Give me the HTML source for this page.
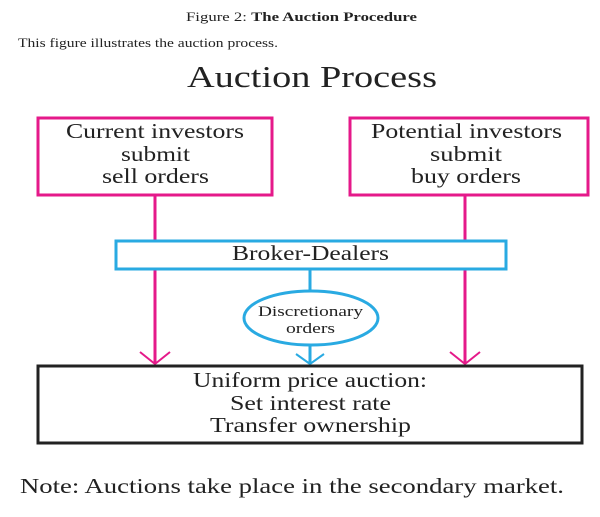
<!DOCTYPE html>
<html><head><meta charset="utf-8"><style>
body{margin:0;background:#fff;width:600px;height:512px;overflow:hidden;font-family:"Liberation Serif",serif;color:#222}
</style></head><body>
<svg width="600" height="512" xmlns="http://www.w3.org/2000/svg" font-family="Liberation Serif, serif" fill="#222">
<text x="186" y="21" font-size="13" textLength="231" lengthAdjust="spacingAndGlyphs">Figure 2: <tspan font-weight="bold">The Auction Procedure</tspan></text>
<text x="18" y="47" font-size="13" textLength="260" lengthAdjust="spacingAndGlyphs">This figure illustrates the auction process.</text>
<text x="187" y="87" font-size="31" textLength="250" lengthAdjust="spacingAndGlyphs">Auction Process</text>
<g fill="none" stroke="#e5198a" stroke-width="3">
<rect x="38" y="118" width="234" height="77"/>
<rect x="350" y="118" width="238" height="77"/>
<line x1="155" y1="195" x2="155" y2="240"/>
<line x1="465" y1="195" x2="465" y2="240"/>
<line x1="155" y1="269" x2="155" y2="364"/>
<line x1="465" y1="269" x2="465" y2="364"/>
<polyline points="140,352 155,364 170,352" stroke-width="2"/>
<polyline points="450,352 465,364 480,352" stroke-width="2"/>
</g>
<g fill="none" stroke="#29aae2" stroke-width="3">
<rect x="116" y="241" width="390" height="28"/>
<line x1="310" y1="269" x2="310" y2="292"/>
<ellipse cx="311" cy="318" rx="67" ry="27"/>
<line x1="310" y1="345" x2="310" y2="364"/>
<polyline points="296,354 310,364 324,354" stroke-width="2"/>
</g>
<rect x="38" y="366" width="544" height="77" fill="none" stroke="#222" stroke-width="3"/>
<g font-size="21">
<text x="66" y="138" textLength="178" lengthAdjust="spacingAndGlyphs">Current investors</text>
<text x="121" y="161" textLength="69" lengthAdjust="spacingAndGlyphs">submit</text>
<text x="102" y="183" textLength="107" lengthAdjust="spacingAndGlyphs">sell orders</text>
<text x="371" y="138" textLength="191" lengthAdjust="spacingAndGlyphs">Potential investors</text>
<text x="430" y="161" textLength="72" lengthAdjust="spacingAndGlyphs">submit</text>
<text x="411" y="183" textLength="110" lengthAdjust="spacingAndGlyphs">buy orders</text>
<text x="232" y="260" textLength="157" lengthAdjust="spacingAndGlyphs">Broker-Dealers</text>
<text x="193" y="387" textLength="234" lengthAdjust="spacingAndGlyphs">Uniform price auction:</text>
<text x="230" y="410" textLength="161" lengthAdjust="spacingAndGlyphs">Set interest rate</text>
<text x="210" y="432" textLength="201" lengthAdjust="spacingAndGlyphs">Transfer ownership</text>
</g>
<g font-size="15">
<text x="258" y="316" textLength="105" lengthAdjust="spacingAndGlyphs">Discretionary</text>
<text x="286" y="333" textLength="49" lengthAdjust="spacingAndGlyphs">orders</text>
</g>
<text x="20" y="493" font-size="21" textLength="544" lengthAdjust="spacingAndGlyphs">Note: Auctions take place in the secondary market.</text>
</svg>
</body></html>
